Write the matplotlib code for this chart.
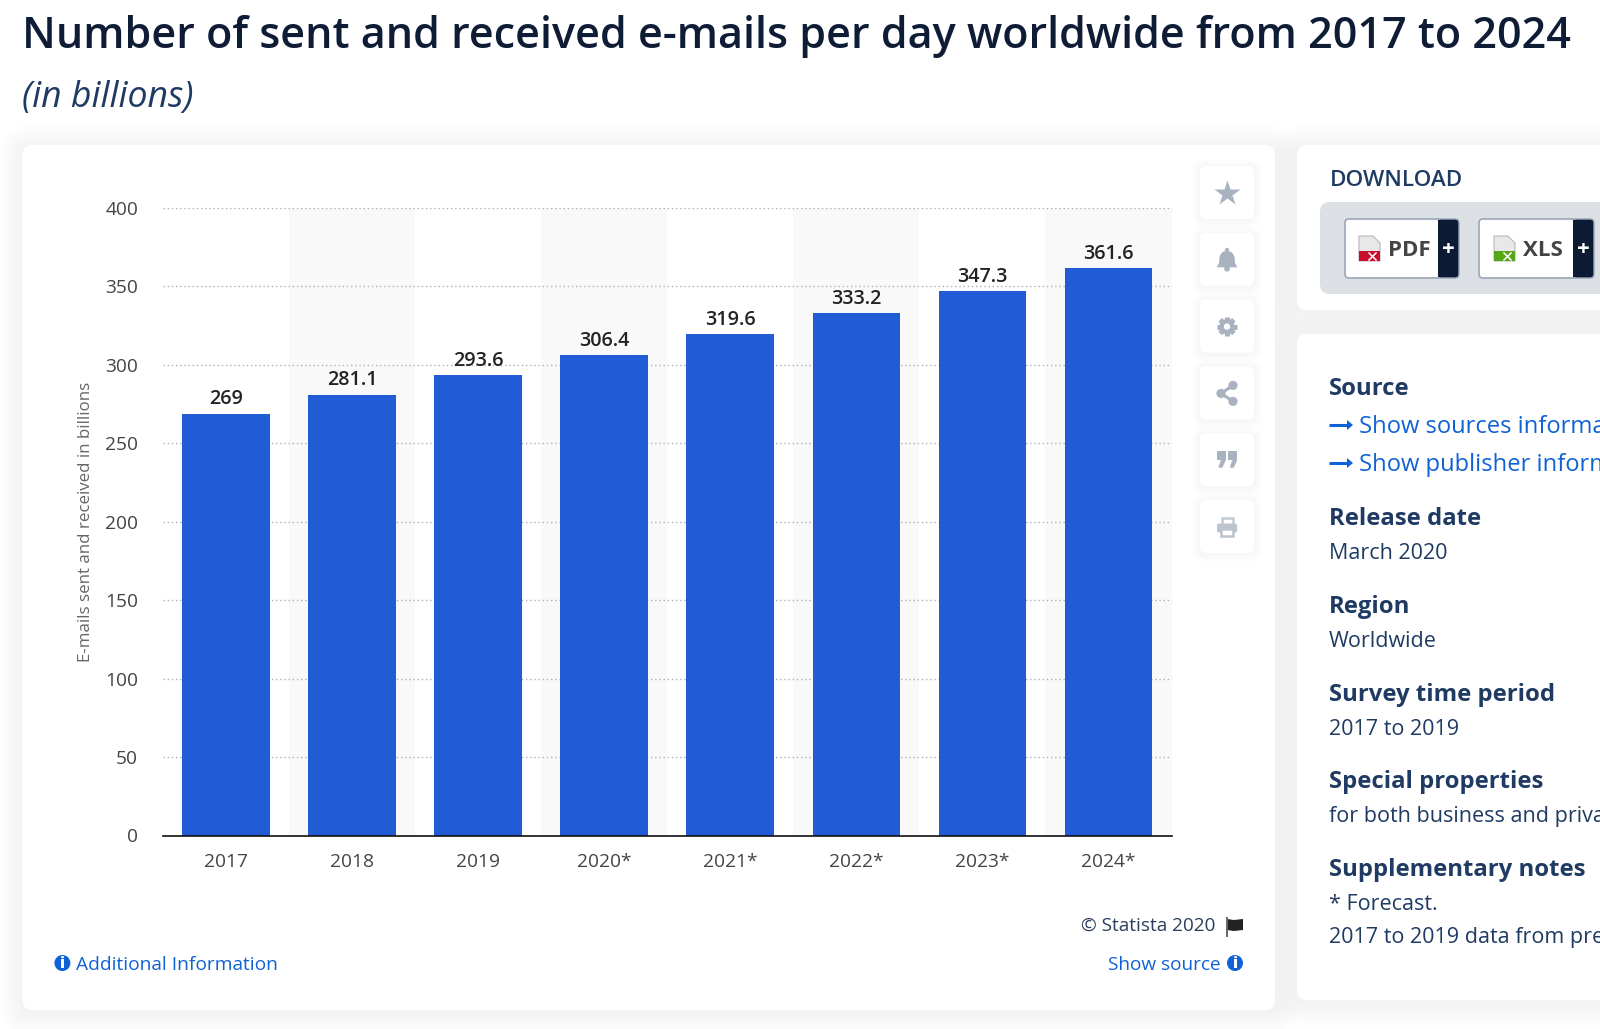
import math
import matplotlib
matplotlib.use("Agg")
import matplotlib.pyplot as plt
from matplotlib.patches import FancyBboxPatch, Rectangle, Circle, Polygon, Wedge
from matplotlib.ticker import FixedLocator
from matplotlib.transforms import ScaledTranslation

# ---- data ----
categories = ["2017", "2018", "2019", "2020*", "2021*", "2022*", "2023*", "2024*"]
values = [269, 281.1, 293.6, 306.4, 319.6, 333.2, 347.3, 361.6]
value_labels = ["269", "281.1", "293.6", "306.4", "319.6", "333.2", "347.3", "361.6"]
y_ticks = [0, 50, 100, 150, 200, 250, 300, 350, 400]

TITLE = "Number of sent and received e-mails per day worldwide from 2017 to 2024"
SUBTITLE = "(in billions)"
YLABEL = "E-mails sent and received in billions"

W, H = 1600, 1029
plt.rcParams['font.family'] = ['Open Sans', 'DejaVu Sans']
fig = plt.figure(figsize=(W / 100, H / 100), dpi=100, facecolor='white')

bg = fig.add_axes([0, 0, 1, 1], zorder=0)
bg.set_xlim(0, W); bg.set_ylim(H, 0); bg.axis('off')

NAVY = '#0f1c36'; SLATE = '#1f3b63'; BLUE = '#0f62d6'; ICON = '#a9b3c0'


def rrect(x0, y0, x1, y1, r=8, **kw):
    p = FancyBboxPatch((x0 + r, y0 + r), x1 - x0 - 2 * r, y1 - y0 - 2 * r,
                       boxstyle=f"round,pad={r},rounding_size={r}", **kw)
    bg.add_patch(p)
    return p


def card(x0, y0, x1, y1, spread=24, alpha=0.0055, r=10, dy=3):
    for i in range(spread, 0, -2):
        rrect(x0 - i, y0 - i + dy, x1 + i, y1 + i + dy, r=r + i, fc='#5f656f', ec='none', alpha=alpha)
    rrect(x0, y0, x1, y1, r=r, fc='white', ec='none')


# cards
card(22.5, 145, 1275, 1010)
card(1297, 145, 1640, 310)
card(1297, 334, 1640, 1000)

# title
bg.text(22.5, 48, TITLE, fontsize=31.04, color=NAVY, fontweight=600, va='baseline')
bg.text(22.5, 107, SUBTITLE, fontsize=25.7, color=SLATE, style='italic', va='baseline')

# side icon buttons
for k in range(6):
    y0 = 166 + k * 66.8
    for i in range(8, 0, -2):
        rrect(1200 - i, y0 - i + 1, 1254 + i, y0 + 53 + i + 1, r=6 + i, fc='#5f656f', ec='none', alpha=0.008)
    rrect(1200, y0, 1254, y0 + 53, r=6, fc='white', ec='none')
cx = 1227
cy = [192.5 + k * 66.8 for k in range(6)]
# star
bg.plot([cx], [cy[0] + 0.5], marker='*', ms=19, color=ICON, mec='none')
# bell
bg.add_patch(Wedge((cx, cy[1] - 1), 7.5, 180, 360, fc=ICON, ec='none'))
bg.add_patch(Polygon([(cx - 7.5, cy[1] - 2), (cx + 7.5, cy[1] - 2), (cx + 8, cy[1] + 4), (cx + 10.5, cy[1] + 8),
                      (cx - 10.5, cy[1] + 8), (cx - 8, cy[1] + 4)], fc=ICON, ec='none'))
bg.add_patch(Circle((cx, cy[1] - 9.5), 2, fc=ICON, ec='none'))
bg.add_patch(Circle((cx, cy[1] + 9.5), 2.8, fc=ICON, ec='none'))
# gear
gy = cy[2] + 0.5
for a in range(0, 360, 45):
    c, s = math.cos(math.radians(a)), math.sin(math.radians(a))
    bg.plot([cx + 5 * c, cx + 9.7 * c], [gy + 5 * s, gy + 9.7 * s], color=ICON, lw=3.6, solid_capstyle='butt')
bg.add_patch(Circle((cx, gy), 7.6, fc=ICON, ec='none'))
bg.add_patch(Circle((cx, gy), 3.2, fc='white', ec='none'))
# share
pts = [(cx + 6, cy[3] - 7.5), (cx - 6, cy[3] + 0.5), (cx + 6, cy[3] + 8.5)]
bg.plot([p[0] for p in pts], [p[1] for p in pts], color=ICON, lw=2.2)
for p in pts:
    bg.add_patch(Circle(p, 4.6, fc=ICON, ec='none'))
# quote
for ox in (-5.7, 5.7):
    bg.add_patch(Rectangle((cx + ox - 4.7, cy[4] - 9), 9.4, 9.5, fc=ICON, ec='none'))
    bg.add_patch(Polygon([(cx + ox + 4.7, cy[4]), (cx + ox + 1, cy[4] + 8), (cx + ox - 3, cy[4] + 8),
                          (cx + ox - 0.5, cy[4] + 0.5)], fc=ICON, ec='none'))
# print
bg.add_patch(Rectangle((cx - 5.5, cy[5] - 9), 11, 7, fc='none', ec='#c3cad4', lw=1.8))
rrect(cx - 10, cy[5] - 3, cx + 10, cy[5] + 6, r=2, fc='#bcc4cf', ec='none')
bg.add_patch(Rectangle((cx - 6, cy[5] + 2), 12, 7, fc='white', ec='#bcc4cf', lw=1.8))

# download panel
bg.text(1329.5, 185.5, "DOWNLOAD", fontsize=16.2, color=SLATE, fontweight=600, va='baseline')
rrect(1320, 202, 1640, 294, r=10, fc='#dcdfe4', ec='none')
for (x0, x1, xd, lab, lx, col, ix) in [(1345, 1459, 1438, "PDF", 1409, '#c8102e', 1359),
                                       (1479, 1594, 1573, "XLS", 1543, '#58a618', 1494)]:
    rrect(xd - 4, 219, x1, 278, r=4, fc='#0d1a33', ec='#9aa7b8', lw=1)
    bg.add_patch(Rectangle((x0 + 4, 219.5), xd - x0 - 4, 58, fc='white', ec='none'))
    rrect(x0, 219, xd + 3, 278, r=4, fc='white', ec='#9aa7b8', lw=1.2)
    bg.add_patch(Rectangle((xd, 219.7), 8, 57.6, fc='#0d1a33', ec='none'))
    bg.text(lx, 256, lab, fontsize=16, color='#444444', fontweight=700, ha='center', va='baseline')
    bg.text((xd + x1) / 2, 255, "+", fontsize=16, color='white', fontweight=700, ha='center', va='baseline')
    bg.add_patch(Polygon([(ix, 236), (ix + 14, 236), (ix + 21, 243), (ix + 21, 261), (ix, 261)],
                         fc='#e8e8e8', ec='#b8b8b8', lw=0.8))
    bg.add_patch(Rectangle((ix, 251), 21, 10, fc=col, ec='none'))
    bg.plot([ix + 10, ix + 17], [253, 260], color='white', lw=1.1)
    bg.plot([ix + 10, ix + 17], [260, 253], color='white', lw=1.1)

# right panel text (the reference crops these lines at the picture's edge)
sections = [("Source", 395, None, None),
            ("Release date", 525, "March 2020", 559),
            ("Region", 613, "Worldwide", 647),
            ("Survey time period", 701, "2017 to 2019", 735),
            ("Special properties", 788, "for both business and priva", 822),
            ("Supplementary notes", 876, "* Forecast.", 910)]
for head, yh, body, yb in sections:
    bg.text(1329, yh, head, fontsize=17.2, color=SLATE, fontweight=700, va='baseline')
    if body:
        bg.text(1329, yb, body, fontsize=15.5, color=SLATE, va='baseline')
bg.text(1329, 943, "2017 to 2019 data from pre", fontsize=15.5, color=SLATE, va='baseline')
for y, t in [(433, "Show sources informa"), (471, "Show publisher inform")]:
    bg.text(1359, y, t, fontsize=17.1, color=BLUE, va='baseline')
    bg.plot([1329, 1349], [y - 8, y - 8], color=BLUE, lw=2.2, solid_capstyle='butt')
    bg.add_patch(Polygon([(1347, y - 13), (1353, y - 8), (1347, y - 3)], fc=BLUE, ec='none'))

# footer of chart card
bg.text(1081, 931, "© Statista 2020", fontsize=13.7, color='#2c3e5c', va='baseline')
bg.plot([1226.5, 1226.5], [918, 936], color='#666666', lw=1.4)
bg.add_patch(Polygon([(1227, 919), (1234, 920), (1243, 919), (1243, 930), (1234, 931), (1227, 930)], fc='#222222', ec='none'))
bg.text(75.8, 970, "Additional Information", fontsize=13.8, color=BLUE, va='baseline')
bg.text(1221, 970, "Show source", fontsize=13.7, color=BLUE, ha='right', va='baseline')
for xc in (62.4, 1235):
    bg.add_patch(Circle((xc, 963), 8, fc=BLUE, ec='none'))
    bg.text(xc, 968, "i", fontsize=11, color='white', fontweight=800, ha='center', va='baseline')

# ---- chart ----
X0, X1, Y0, Y400 = 163, 1171.5, 835.5, 208
ax = fig.add_axes([X0 / W, 1 - Y0 / H, (X1 - X0) / W, (Y0 - Y400) / H], zorder=2)
ax.patch.set_alpha(0)
pos = list(range(len(categories)))
ax.set_xlim(-0.5, len(categories) - 0.5)
ax.set_ylim(0, 400)
for i in pos:
    if i % 2 == 1:
        ax.axvspan(i - 0.5, i + 0.5, color='#f9f9fa', lw=0, zorder=0)
ax.yaxis.set_major_locator(FixedLocator(y_ticks))
ax.grid(axis='y', color='#b0b0b0', lw=1, ls=(0, (1, 2)), zorder=1)
ax.set_axisbelow(True)
ax.bar(pos, values, width=0.695, color='#205cd5', zorder=2)
for sp in ('top', 'left', 'right'):
    ax.spines[sp].set_visible(False)
ax.spines['bottom'].set_color('#111111')
ax.spines['bottom'].set_linewidth(1.2)
ax.spines['bottom'].set_zorder(5)
ax.set_xticks(pos, categories)
ax.tick_params(axis='x', length=0, pad=12.5, labelsize=13.8, labelcolor='#444444')
ax.tick_params(axis='y', length=0, pad=18, labelsize=13.8, labelcolor='#444444')
shift = ScaledTranslation(0, -2 / 100, fig.dpi_scale_trans)
for lab in ax.get_yticklabels():
    lab.set_va('center')
    lab.set_transform(lab.get_transform() + shift)
for i, v, t in zip(pos, values, value_labels):
    ax.annotate(t, (i, v), xytext=(0, 3), textcoords='offset points', ha='center', va='bottom',
                fontsize=14.2, fontweight=600, color='#222222', zorder=4)
ax.set_ylabel(YLABEL, fontsize=12.2, color='#666666', labelpad=0)
ax.yaxis.set_label_coords((94 - X0) / (X1 - X0), (Y0 - 522) / (Y0 - Y400))

fig.savefig("out.png", dpi=100)
